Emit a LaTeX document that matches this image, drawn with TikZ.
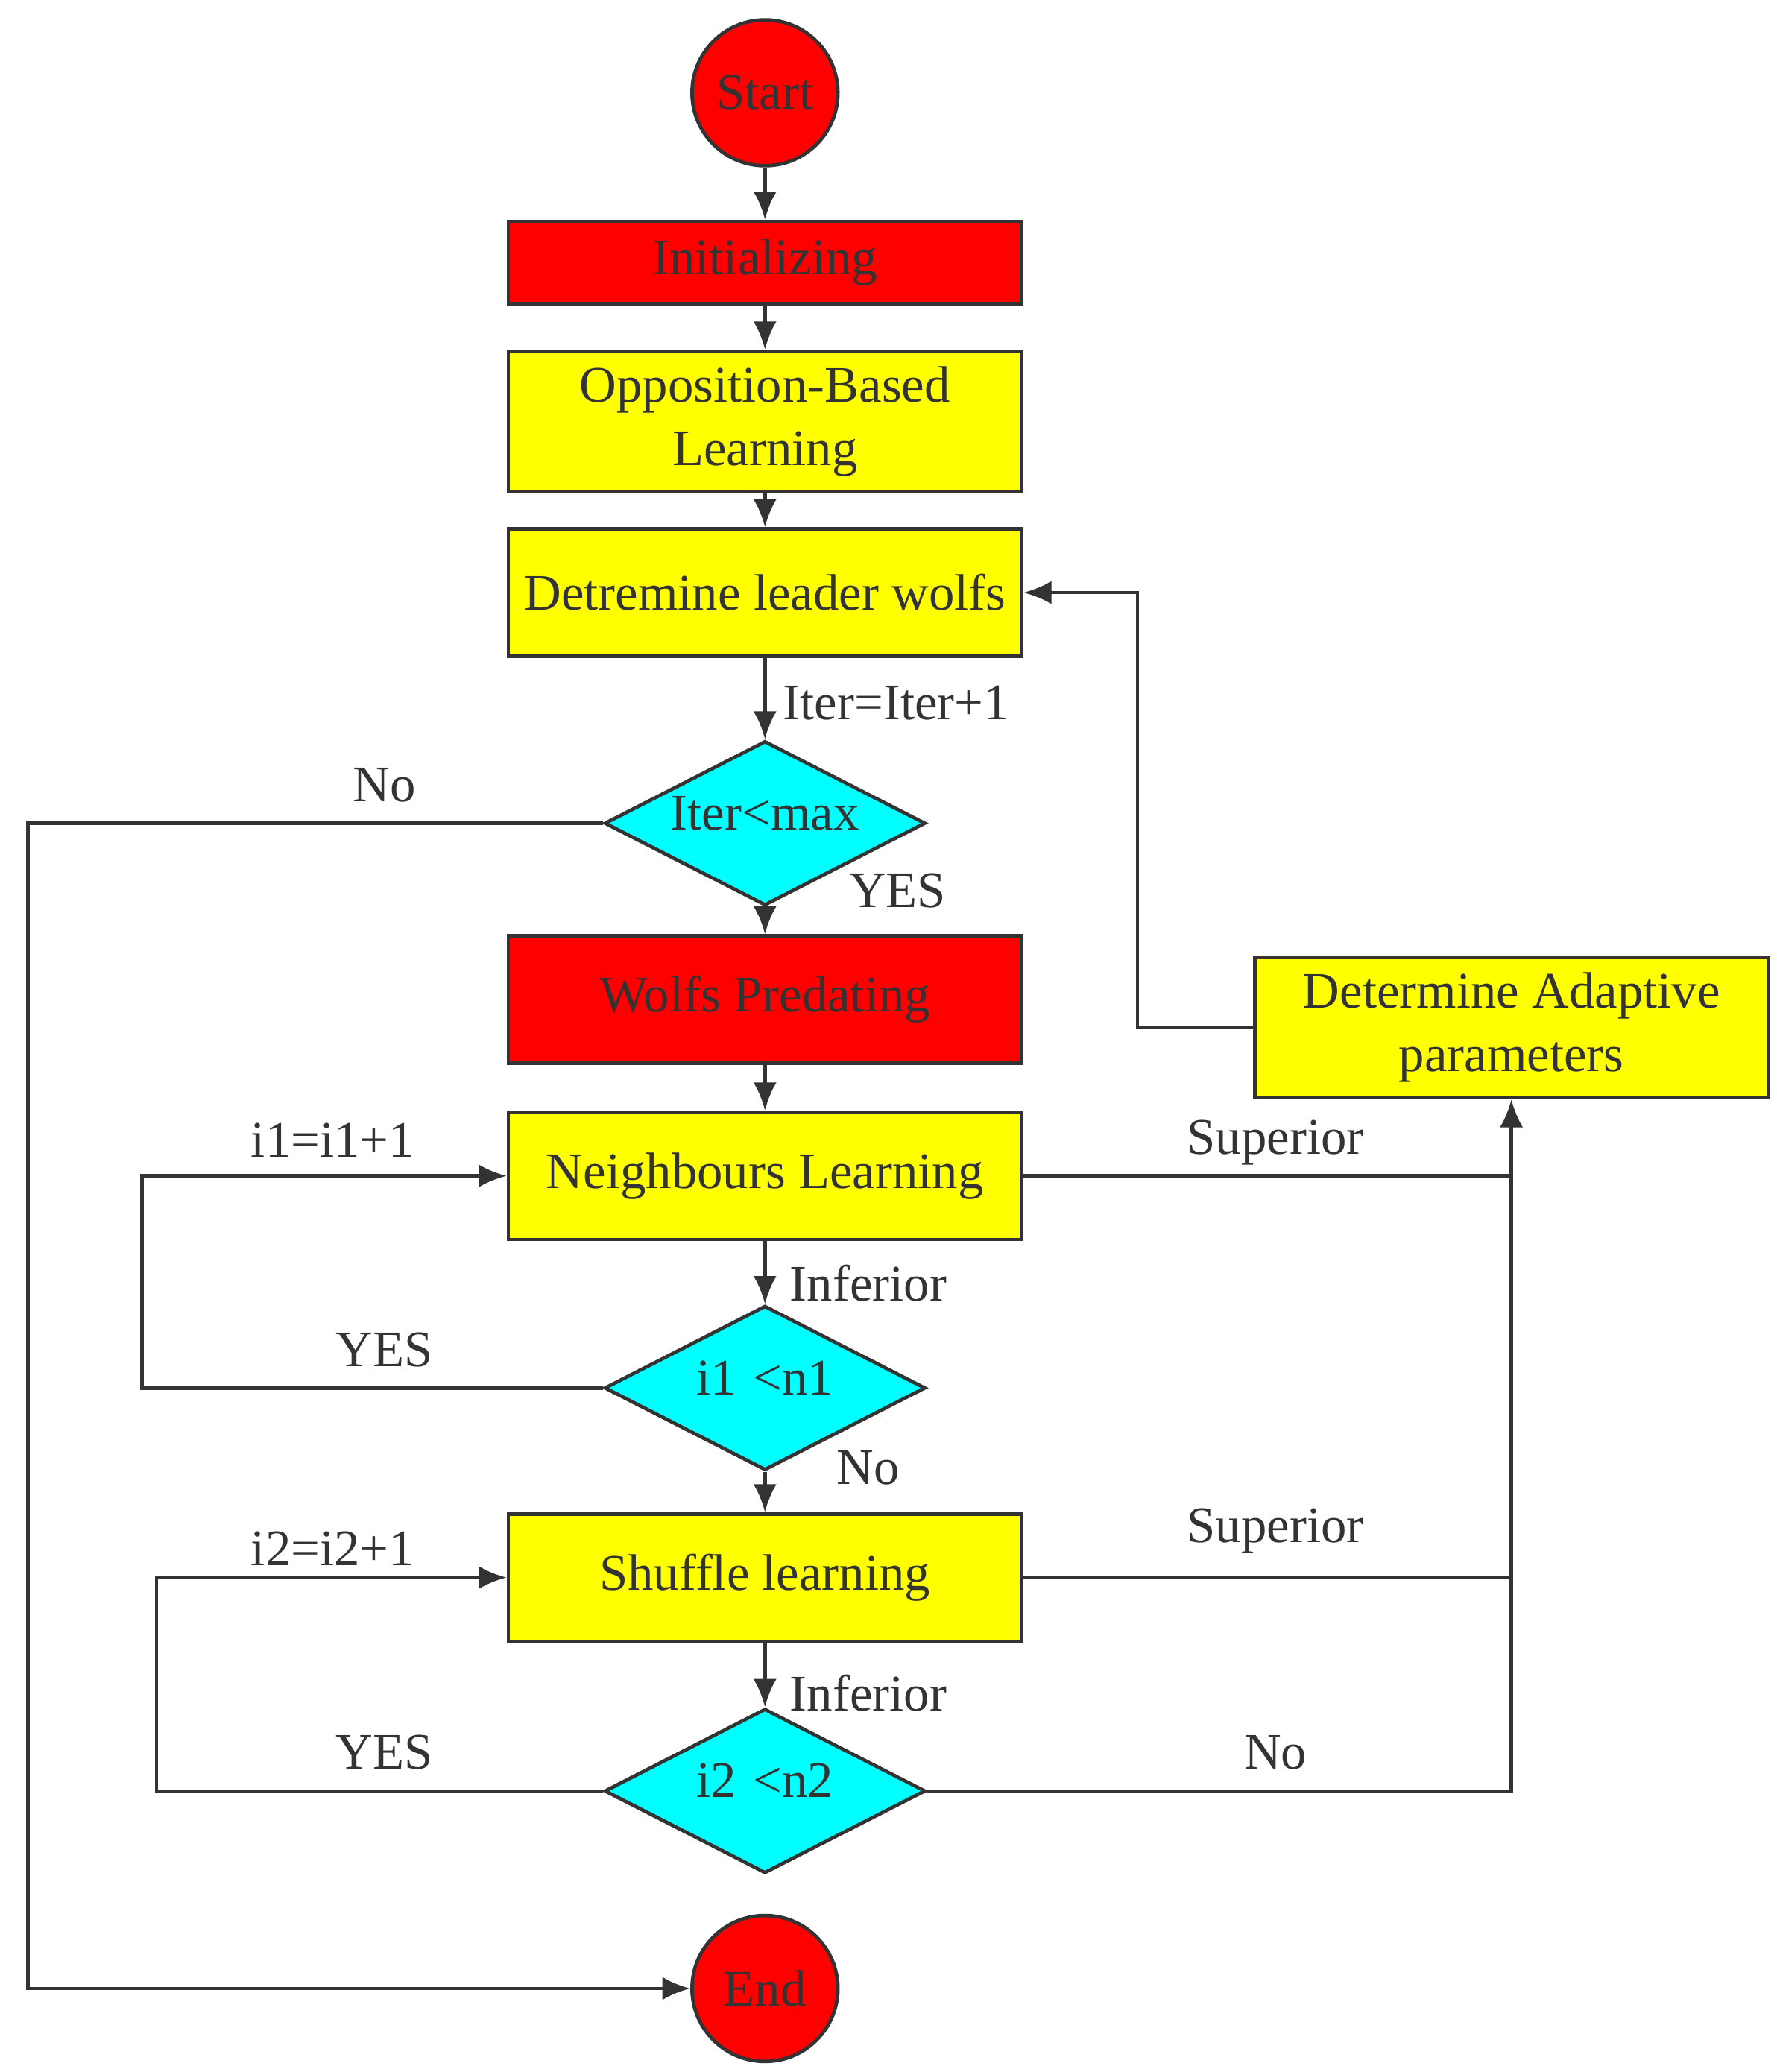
\documentclass[tikz,border=0pt]{standalone}
\usepackage{fontspec}
\setmainfont{Liberation Serif}
\usetikzlibrary{shapes.geometric,arrows.meta,positioning}
\definecolor{ink}{HTML}{333333}
\definecolor{boxred}{HTML}{FF0000}
\definecolor{boxyel}{HTML}{FFFF00}
\definecolor{boxcyan}{HTML}{00FFFF}
\tikzset{
  line/.style={draw=ink, line width=0.75pt},
  arr/.style={line, -{Latex[length=6pt,width=5pt]}},
  box/.style={line, rectangle, minimum width=3.87cm, minimum height=0.96cm, inner xsep=1pt, align=center, text=ink, font=\fontsize{11}{13.5}\selectfont},
  redbox/.style={box, fill=boxred, minimum height=0.62cm},
  yelbox/.style={box, fill=boxyel},
  term/.style={line, circle, fill=boxred, minimum size=1.1cm, inner sep=0pt, text=ink, font=\fontsize{11}{13.5}\selectfont},
  cond/.style={line, diamond, fill=boxcyan, minimum width=2.42cm, minimum height=1.24cm, inner sep=0pt, text width=0.5cm, text height=0.1cm, text depth=0pt, align=center, text=ink, font=\fontsize{11}{13.5}\selectfont},
  lbl/.style={text=ink, font=\fontsize{11}{13.5}\selectfont}
}
\begin{document}
\begin{tikzpicture}[x=0.01cm, y=-0.01cm]
    \useasboundingbox (0,0) rectangle (1340,1563);

    % main column
    \node[term] (start) at (577,70) {Start};
    \node[redbox] (init) at (577,198) {Initializing};
    \node[yelbox] (obl) at (577,318) {Opposition-Based\\Learning};
    \node[yelbox] (leader) at (577,447) {Detremine leader wolfs};
    \node[cond] (itermax) at (577,621) {\makebox[0pt]{Iter<max}};
    \node[redbox, minimum height=0.96cm] (pred) at (577,754) {Wolfs Predating};
    \node[yelbox] (neigh) at (577,887) {Neighbours Learning};
    \node[cond] (ione) at (577,1047) {\makebox[0pt]{i1 <n1}};
    \node[yelbox] (shuf) at (577,1190) {Shuffle learning};
    \node[cond] (itwo) at (577,1351) {\makebox[0pt]{i2 <n2}};
    \node[term] (stop) at (577,1500) {End};

    % side box
    \node[yelbox] (adapt) at (1140,775) {Determine Adaptive\\parameters};

    \coordinate (c1) at (21,621);
    \coordinate (c2) at (21,1500);
    \coordinate (c3) at (858,775);
    \coordinate (c4) at (858,447);
    \coordinate (c5) at (1140,887);
    \coordinate (c6) at (1140,1190);
    \coordinate (c7) at (1140,1351);
    \coordinate (c8) at (107,1047);
    \coordinate (c9) at (107,887);
    \coordinate (c10) at (118,1351);
    \coordinate (c11) at (118,1190);

    % flow
    \draw[arr] (start) -- (init);
    \draw[arr] (init) -- (obl);
    \draw[arr] (obl) -- (leader);
    \draw[arr] (leader) -- (itermax);
    \draw[arr] (itermax) -- (pred);
    \draw[arr] (pred) -- (neigh);
    \draw[arr] (neigh) -- (ione);
    \draw[arr] (ione) -- (shuf);
    \draw[arr] (shuf) -- (itwo);

    % loops
    \draw[arr] (itermax.west) -- (c1) -- (c2) -- (stop);
    \draw[arr] (adapt.west) -- (c3) -- (c4) -- (leader.east);
    \draw[line] (neigh.east) -- (c5);
    \draw[line] (shuf.east) -- (c6);
    \draw[arr] (itwo.east) -- (c7) -- (c5) -- (adapt.south);
    \draw[arr] (ione.west) -- (c8) -- (c9) -- (neigh.west);
    \draw[arr] (itwo.west) -- (c10) -- (c11) -- (shuf.west);

    % labels
    \node[lbl] (liter) at (676,530) {Iter=Iter+1};
    \node[lbl] (lno1) at (290,592) {No};
    \node[lbl] (lyes1) at (677,672) {YES};
    \node[lbl] (linc1) at (251,860) {i1=i1+1};
    \node[lbl] (lsup1) at (962,862) {Superior};
    \node[lbl] (linf1) at (655,968) {Inferior};
    \node[lbl] (lyes2) at (290,1018) {YES};
    \node[lbl] (lno2) at (655,1107) {No};
    \node[lbl] (linc2) at (251,1168) {i2=i2+1};
    \node[lbl] (lsup2) at (962,1155) {Superior};
    \node[lbl] (linf2) at (655,1277) {Inferior};
    \node[lbl] (lyes3) at (290,1322) {YES};
    \node[lbl] (lno3) at (962,1322) {No};
\end{tikzpicture}
\end{document}
